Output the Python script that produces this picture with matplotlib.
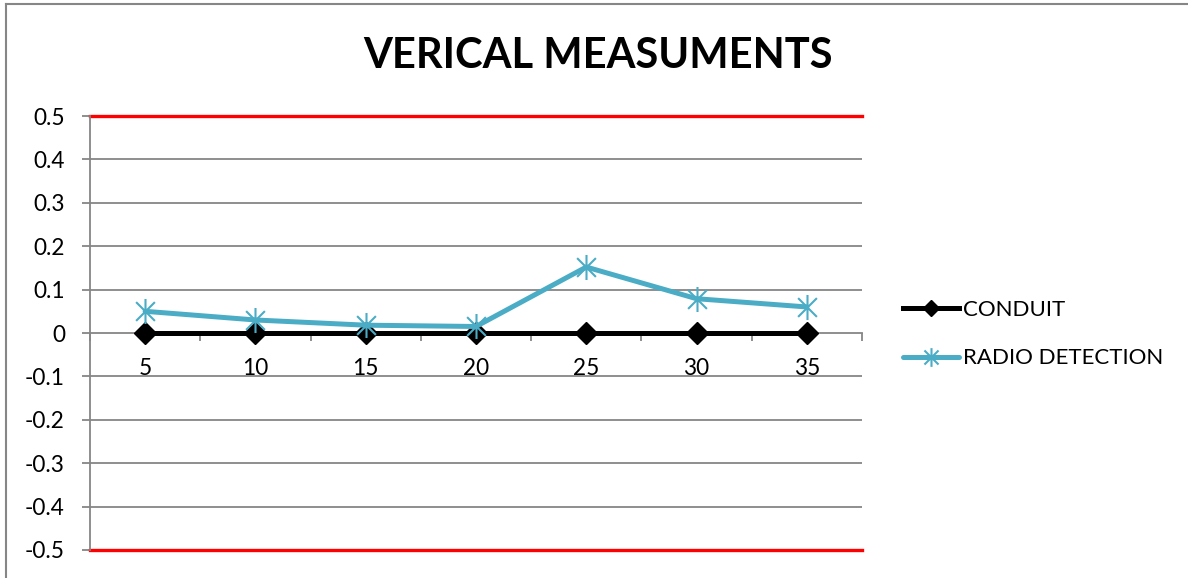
import matplotlib
matplotlib.use("Agg")
import matplotlib.pyplot as plt
from matplotlib.path import Path
from matplotlib.lines import Line2D
from matplotlib.ticker import FixedLocator, NullFormatter

plt.rcParams['font.family'] = ['Lato', 'DejaVu Sans']

categories = ["5", "10", "15", "20", "25", "30", "35"]
conduit = [0, 0, 0, 0, 0, 0, 0]
radio_detection = [0.05, 0.03, 0.018, 0.015, 0.152, 0.079, 0.06]
y_ticks = [-0.5, -0.4, -0.3, -0.2, -0.1, 0, 0.1, 0.2, 0.3, 0.4, 0.5]
y_tick_labels = ["-0.5", "-0.4", "-0.3", "-0.2", "-0.1", "0", "0.1", "0.2", "0.3", "0.4", "0.5"]
limit_upper = 0.5
limit_lower = -0.5

W, H = 1188, 578
fig = plt.figure(figsize=(W / 100, H / 100), dpi=100)
ax = fig.add_axes([90 / W, 1 - 550 / H, (862 - 90) / W, (550 - 116) / H])

GRID = "#868686"
AQUA = "#4BACC6"
FS = 16.3

x = list(range(len(categories)))

# Excel-like star marker: vertical bar plus an X
star = Path([(0, -1), (0, 1), (-0.75, -0.75), (0.75, 0.75), (-0.75, 0.75), (0.75, -0.75)],
            [Path.MOVETO, Path.LINETO, Path.MOVETO, Path.LINETO, Path.MOVETO, Path.LINETO])

ax.set_xlim(-0.5, len(categories) - 0.5)
ax.set_ylim(-0.5, 0.5)

for yv in y_ticks:
    if yv in (limit_upper, limit_lower, 0):
        continue
    ax.axhline(yv, color=GRID, lw=1.3, zorder=1)

ax.axhline(limit_upper, color="#FF0000", lw=2.4, zorder=2, clip_on=False)
ax.axhline(limit_lower, color="#FF0000", lw=2.4, zorder=2, clip_on=False)

ax.plot(x, conduit, color="black", lw=3.6, marker="D", markersize=11,
        markerfacecolor="black", markeredgecolor="black", zorder=4, label="CONDUIT")
ax.plot(x, radio_detection, color=AQUA, lw=3.6, marker=star, markersize=18,
        markeredgewidth=1.5, markeredgecolor=AQUA, zorder=5, label="RADIO DETECTION",
        solid_capstyle="round")

for s in ("top", "right"):
    ax.spines[s].set_visible(False)
ax.spines["left"].set_color(GRID)
ax.spines["left"].set_linewidth(1.3)
ax.spines["bottom"].set_position(("data", 0))
ax.spines["bottom"].set_color(GRID)
ax.spines["bottom"].set_linewidth(1.3)
ax.spines["bottom"].set_zorder(3)

ax.set_yticks(y_ticks)
ax.set_yticklabels(y_tick_labels)
ax.tick_params(axis="y", direction="out", length=6, width=1.3, color=GRID,
               labelsize=FS, pad=12, labelcolor="black")

ax.set_xticks(x)
ax.set_xticklabels(categories)
ax.xaxis.set_minor_locator(FixedLocator([i - 0.5 for i in range(len(categories) + 1)]))
ax.xaxis.set_minor_formatter(NullFormatter())
ax.tick_params(axis="x", which="major", length=0, labelsize=FS, pad=18, labelcolor="black")
ax.tick_params(axis="x", which="minor", direction="out", length=6, width=1.3, color=GRID)

fig.suptitle("VERICAL MEASUMENTS", x=598 / W, y=1 - 56 / H, va="center",
             fontsize=30, fontweight="bold")

leg = ax.legend(loc="center left", bbox_to_anchor=(903 / W, 1 - 334 / H),
                bbox_transform=fig.transFigure, frameon=False, fontsize=16,
                handlelength=2.5, handletextpad=0.2, labelspacing=1.3,
                borderpad=0, borderaxespad=0, markerscale=0.75)

# chart area border (top and left edges)
fig.add_artist(Line2D([6 / W, 1], [1 - 4 / H, 1 - 4 / H], transform=fig.transFigure,
                      color=GRID, lw=1.5))
fig.add_artist(Line2D([6 / W, 6 / W], [0, 1 - 4 / H], transform=fig.transFigure,
                      color=GRID, lw=1.5))

fig.savefig("out.png", dpi=100)
